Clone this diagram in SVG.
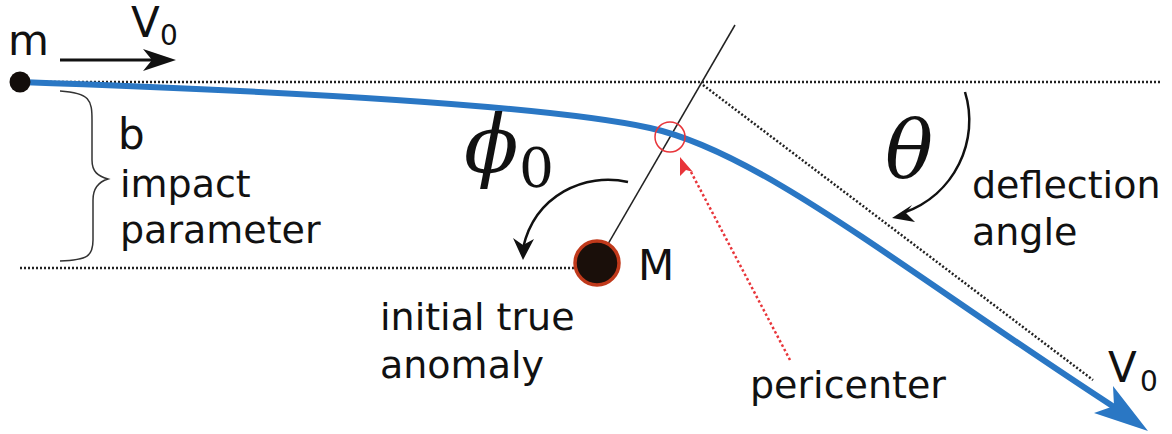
<svg xmlns="http://www.w3.org/2000/svg" width="1172" height="434" viewBox="0 0 1172 434">
<style>
.lbl{font-family:"DejaVu Sans","Liberation Sans",sans-serif;font-size:38px;fill:#111}
.big{font-family:"DejaVu Sans","Liberation Sans",sans-serif;font-size:42px;fill:#111}
.sub{font-family:"DejaVu Sans","Liberation Sans",sans-serif;font-size:28px;fill:#111}
.math{font-family:"DejaVu Serif","Liberation Serif",serif;font-style:italic;fill:#111}
.mathn{font-family:"DejaVu Serif","Liberation Serif",serif;fill:#111}
.dot{fill:none;stroke:#222;stroke-width:2.5;stroke-dasharray:2 2}
.thin{fill:none;stroke:#222;stroke-width:1.5}
.arc{fill:none;stroke:#111;stroke-width:2.5}
</style>
<rect width="1172" height="434" fill="#fff"/>
<g id="connectors">
  <line class="dot" x1="30" y1="82" x2="1162" y2="82"/>
  <line class="dot" x1="20" y1="268" x2="575" y2="268"/>
  <line class="dot" x1="703" y1="85" x2="1093" y2="380"/>
  <line class="thin" x1="597" y1="263" x2="735" y2="25"/>
  <path d="M60 91 C90 93,92 100,92 120 L92 160 C92 172,98 176,108 179 C98 182,93 188,93 200 L93 240 C93 256,88 260,60 261" fill="none" stroke="#333" stroke-width="1.5"/>
  <line x1="60" y1="60" x2="160" y2="60" stroke="#111" stroke-width="3"/>
  <path d="M176 60 L143 49 L152 60 L143 71 Z" fill="#111"/>
  <path d="M628 182 C585 172,535 195,523 248" class="arc"/>
  <path d="M523 260 L513 238 L523 245 L534 239 Z" fill="#111"/>
  <path d="M965 92 C980 140,955 195,903 213" class="arc"/>
  <path d="M892 218 L912 205 L906 213 L915 222 Z" fill="#111"/>
  <path d="M20 82 C250 90,540 104,650 128 C760 152,900 268,1114 407" fill="none" stroke="#2a77c4" stroke-width="6"/>
  <path d="M1148 431 L1094 413 L1114 406 L1113 386 Z" fill="#2a77c4"/>
  <line x1="691" y1="172" x2="790" y2="360" stroke="#e8353a" stroke-width="2.5" stroke-dasharray="2.5 2.5"/>
  <path d="M680 157 L693 172 L686 170 L680 176 Z" fill="#e8353a"/>
</g>
<g id="node-m">
  <circle cx="20" cy="82" r="10.5" fill="#130d0a"/>
  <text class="big" x="8" y="55">m</text>
</g>
<g id="label-v0-top">
  <text class="big" x="131" y="37">V</text>
  <text class="sub" x="160" y="45">0</text>
</g>
<g id="label-b">
  <text class="big" x="118" y="149">b</text>
  <text class="lbl" x="120" y="197">impact</text>
  <text class="lbl" x="120" y="243">parameter</text>
</g>
<g id="label-phi">
  <text class="math" x="464" y="172" font-size="80">ϕ</text>
  <text class="mathn" x="519" y="187" font-size="55">0</text>
</g>
<g id="node-M">
  <circle cx="597" cy="263" r="22" fill="#1a0f0a" stroke="#c0391b" stroke-width="3.5"/>
  <text class="big" x="638" y="280">M</text>
</g>
<g id="pericenter">
  <circle cx="670" cy="137" r="15" fill="none" stroke="#e8353a" stroke-width="1.5"/>
  <text class="lbl" x="750" y="398">pericenter</text>
</g>
<g id="label-theta">
  <text class="math" x="885" y="177" font-size="80">θ</text>
  <text class="lbl" x="972" y="198">deflection</text>
  <text class="lbl" x="972" y="245">angle</text>
</g>
<g id="label-anomaly">
  <text class="lbl" x="380" y="330">initial true</text>
  <text class="lbl" x="380" y="378">anomaly</text>
</g>
<g id="label-v0-bottom">
  <text class="big" x="1108" y="382">V</text>
  <text class="sub" x="1140" y="391">0</text>
</g>
</svg>
